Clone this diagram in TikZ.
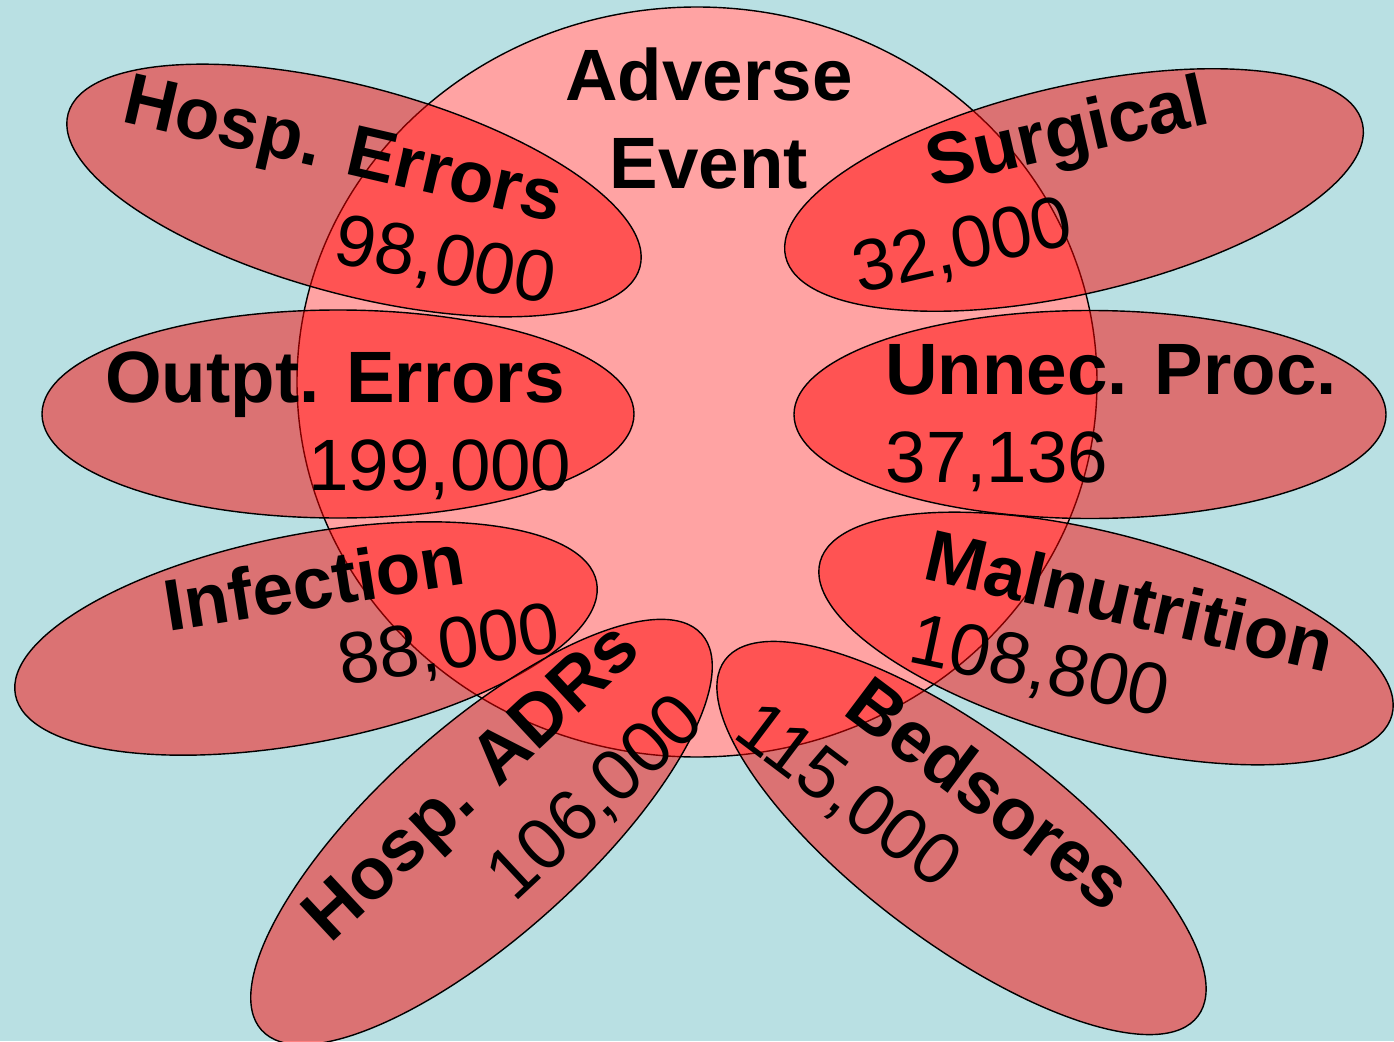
\documentclass[tikz,border=0pt]{standalone}
\usepackage{fontspec}
\setmainfont{Liberation Sans}
\usepackage{xcolor}
\usepackage{tikz}
\usetikzlibrary{shapes.geometric}

\definecolor{skyback}{RGB}{185,224,227}
\definecolor{hubpink}{RGB}{255,163,163}

\begin{document}
\begin{tikzpicture}[
    hub/.style={ellipse, draw=black, fill=hubpink, minimum width=8cm, minimum height=7.5cm, inner sep=0pt},
    petal/.style={ellipse, draw=black, fill=red, fill opacity=0.49, minimum width=5.92cm, minimum height=2.08cm, inner sep=0pt},
    bigtext/.style={font=\fontsize{20.7}{25}\selectfont\bfseries, align=center, inner sep=0pt},
    numtext/.style={font=\fontsize{20.7}{25}\selectfont, inner sep=0pt}
]
\useasboundingbox (0,0) rectangle (13.94,10.41);
\fill[skyback] (0,0) rectangle (13.94,10.41);

\node[hub] (adverse) at (6.97,6.59) {};

\node[petal, rotate=-15] (hosperr) at (3.54,8.505) {};
\node[petal, rotate=13] (surgical) at (10.74,8.51) {};
\node[petal] (outpt) at (3.38,6.27) {};
\node[petal] (unnec) at (10.90,6.265) {};
\node[petal, rotate=11] (infection) at (3.06,4.025) {};
\node[petal, rotate=-15] (malnut) at (11.06,4.025) {};
\node[petal, rotate=42] (hospadr) at (4.815,2.09) {};
\node[petal, rotate=-37] (bedsores) at (9.615,2.03) {};

\node[bigtext] (adversetxt) at (7.09,9.225) {Adverse\\Event};

\node[bigtext, rotate=-13] (hosperrtxt) at (3.42,8.86) {Hosp. Errors};
\node[numtext, rotate=-11] (hosperrnum) at (4.45,7.78) {98,000};
\node[bigtext, rotate=13] (surgicaltxt) at (10.68,9.04) {Surgical};
\node[numtext, rotate=13] (surgicalnum) at (9.63,7.93) {32,000};
\node[bigtext] (outpttxt) at (3.35,6.56) {Outpt. Errors};
\node[numtext] (outptnum) at (4.40,5.71) {199,000};
\node[bigtext] (unnectxt) at (11.11,6.71) {Unnec. Proc.};
\node[numtext] (unnecnum) at (9.97,5.79) {37,136};
\node[bigtext, rotate=9] (infectiontxt) at (3.14,4.59) {Infection};
\node[numtext, rotate=9] (infectionnum) at (4.49,3.93) {88,000};
\node[bigtext, rotate=-13] (malnuttxt) at (11.30,4.41) {Malnutrition};
\node[numtext, rotate=-12] (malnutnum) at (10.39,3.72) {108,800};
\node[bigtext, rotate=43] (hospadrtxt) at (4.75,2.55) {Hosp. ADRs};
\node[numtext, rotate=43] (hospadrnum) at (5.97,2.42) {106,000};
\node[bigtext, rotate=-37] (bedsorestxt) at (9.90,2.48) {Bedsores};
\node[numtext, rotate=-37] (bedsoresnum) at (8.47,2.44) {115,000};

\end{tikzpicture}
\end{document}
